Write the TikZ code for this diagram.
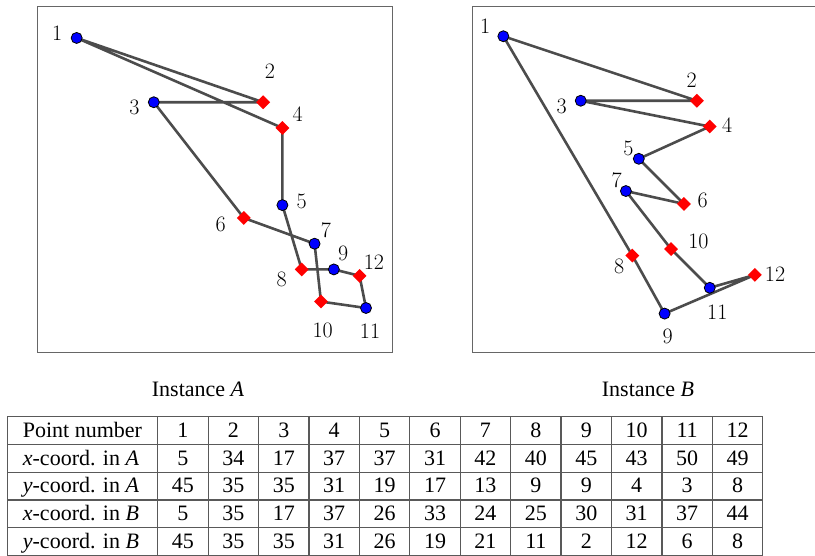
\documentclass[tikz,border=0pt]{standalone}
\usepackage{fontspec}
\setmainfont{Liberation Serif}
\newfontfamily\lmr{Latin Modern Roman}
\usetikzlibrary{shapes.geometric,backgrounds,calc}
\begin{document}
\begin{tikzpicture}[x=1pt,y=1pt,
  bpt/.style={circle,draw=black,fill=blue,line width=0.8pt,minimum size=11pt,inner sep=0pt},
  rpt/.style={diamond,fill=red,minimum width=14pt,minimum height=14pt,inner sep=0pt},
  edge/.style={draw=black!70,line width=2.6pt,line join=round},
  lbl/.style={inner sep=0pt,font=\lmr\fontsize{22}{26}\selectfont},
  frame/.style={draw=black!60,line width=1pt},
  grid/.style={draw=black!65,line width=1.2pt},
  cell/.style={inner sep=0pt,font=\rmfamily\fontsize{22}{26}\selectfont,anchor=base}]
\useasboundingbox (0,0) rectangle (815,556);

% frames
\draw[frame] (37,549) rectangle (392,203);
\draw[frame] (817,549) -- (472.7,549) -- (472.7,203) -- (817,203);

% Instance A points
\begin{scope}[shift={(44.5,228.7)},scale=6.43]
\node[bpt] (a1) at (5,45) {};
\node[rpt] (a2) at (34,35) {};
\node[bpt] (a3) at (17,35) {};
\node[rpt] (a4) at (37,31) {};
\node[bpt] (a5) at (37,19) {};
\node[rpt] (a6) at (31,17) {};
\node[bpt] (a7) at (42,13) {};
\node[rpt] (a8) at (40,9) {};
\node[bpt] (a9) at (45,9) {};
\node[rpt] (a10) at (43,4) {};
\node[bpt] (a11) at (50,3) {};
\node[rpt] (a12) at (49,8) {};
\end{scope}

% Instance B points
\begin{scope}[shift={(471.1,229.5)},scale=6.45]
\node[bpt] (b1) at (5,45) {};
\node[rpt] (b2) at (35,35) {};
\node[bpt] (b3) at (17,35) {};
\node[rpt] (b4) at (37,31) {};
\node[bpt] (b5) at (26,26) {};
\node[rpt] (b6) at (33,19) {};
\node[bpt] (b7) at (24,21) {};
\node[rpt] (b8) at (25,11) {};
\node[bpt] (b9) at (30,2) {};
\node[rpt] (b10) at (31,12) {};
\node[bpt] (b11) at (37,6) {};
\node[rpt] (b12) at (44,8) {};
\end{scope}

% tours
\begin{scope}[on background layer]
\draw[edge] (a1.center) -- (a2.center) -- (a3.center) -- (a6.center) -- (a7.center) -- (a10.center) -- (a11.center) -- (a12.center) -- (a9.center) -- (a8.center) -- (a5.center) -- (a4.center) -- cycle;
\draw[edge] (b1.center) -- (b2.center) -- (b3.center) -- (b4.center) -- (b5.center) -- (b6.center) -- (b7.center) -- (b10.center) -- (b11.center) -- (b12.center) -- (b9.center) -- (b8.center) -- cycle;
\end{scope}

% labels A
\node[lbl] (la1) at ($(a1)+(-19.4,5)$) {1};
\node[lbl] (la2) at ($(a2)+(6.9,30.6)$) {2};
\node[lbl] (la3) at ($(a3)+(-19.5,-5)$) {3};
\node[lbl] (la4) at ($(a4)+(15.3,13.6)$) {4};
\node[lbl] (la5) at ($(a5)+(19.3,4.1)$) {5};
\node[lbl] (la6) at ($(a6)+(-23.1,-6)$) {6};
\node[lbl] (la7) at ($(a7)+(11.4,13.7)$) {7};
\node[lbl] (la8) at ($(a8)+(-20,-9.9)$) {8};
\node[lbl] (la9) at ($(a9)+(9.4,16.1)$) {9};
\node[lbl] (la10) at ($(a10)+(1.7,-28.4)$) {10};
\node[lbl] (la11) at ($(a11)+(4,-23)$) {11};
\node[lbl] (la12) at ($(a12)+(14.4,13.2)$) {12};

% labels B
\node[lbl] (lb1) at ($(b1)+(-18.3,10)$) {1};
\node[lbl] (lb2) at ($(b2)+(-5.2,20.8)$) {2};
\node[lbl] (lb3) at ($(b3)+(-19.1,-5.2)$) {3};
\node[lbl] (lb4) at ($(b4)+(17.5,1.6)$) {4};
\node[lbl] (lb5) at ($(b5)+(-10.5,10.5)$) {5};
\node[lbl] (lb6) at ($(b6)+(18.7,4)$) {6};
\node[lbl] (lb7) at ($(b7)+(-9.2,11.1)$) {7};
\node[lbl] (lb8) at ($(b8)+(-13.1,-11.2)$) {8};
\node[lbl] (lb9) at ($(b9)+(3.1,-23.1)$) {9};
\node[lbl] (lb10) at ($(b10)+(27.3,7.4)$) {10};
\node[lbl] (lb11) at ($(b11)+(7.5,-24.9)$) {11};
\node[lbl] (lb12) at ($(b12)+(20.1,0.9)$) {12};

% captions
\node[cell,anchor=base west] (capA) at (151.7,159.5) {Instance {\itshape A}};
\node[cell,anchor=base west] (capB) at (601.7,159.5) {Instance {\itshape B}};

% table grid
\foreach \k in {0,...,5} \draw[grid] (7.3,{139.3-27.78*\k}) -- (762.7,{139.3-27.78*\k});
\draw[grid] (7.3,139.3) -- (7.3,-2);
\foreach \j in {0,...,12} \draw[grid] ({157.7+50.42*\j},139.3) -- ({157.7+50.42*\j},-2);

% row headers
\node[cell,anchor=base west] (h0) at (22.7,{139.3-27.78*0.5-6.8}) {Point number};
\node[cell,anchor=base west] (h1) at (22.7,{139.3-27.78*1.5-6.8}) {{\itshape x}-coord. in {\itshape A}};
\node[cell,anchor=base west] (h2) at (22.7,{139.3-27.78*2.5-6.8}) {{\itshape y}-coord. in {\itshape A}};
\node[cell,anchor=base west] (h3) at (22.7,{139.3-27.78*3.5-6.8}) {{\itshape x}-coord. in {\itshape B}};
\node[cell,anchor=base west] (h4) at (22.7,{139.3-27.78*4.5-6.8}) {{\itshape y}-coord. in {\itshape B}};

% table values
\foreach \vals [count=\r from 0] in {
  {1,2,3,4,5,6,7,8,9,10,11,12},
  {5,34,17,37,37,31,42,40,45,43,50,49},
  {45,35,35,31,19,17,13,9,9,4,3,8},
  {5,35,17,37,26,33,24,25,30,31,37,44},
  {45,35,35,31,26,19,21,11,2,12,6,8}} {
  \foreach \v [count=\c from 0] in \vals {
    \node[cell] (t\r-\c) at ({157.7+50.42*(\c+0.5)},{139.3-27.78*(\r+0.5)-6.8}) {\v};
  }
}
\end{tikzpicture}
\end{document}
